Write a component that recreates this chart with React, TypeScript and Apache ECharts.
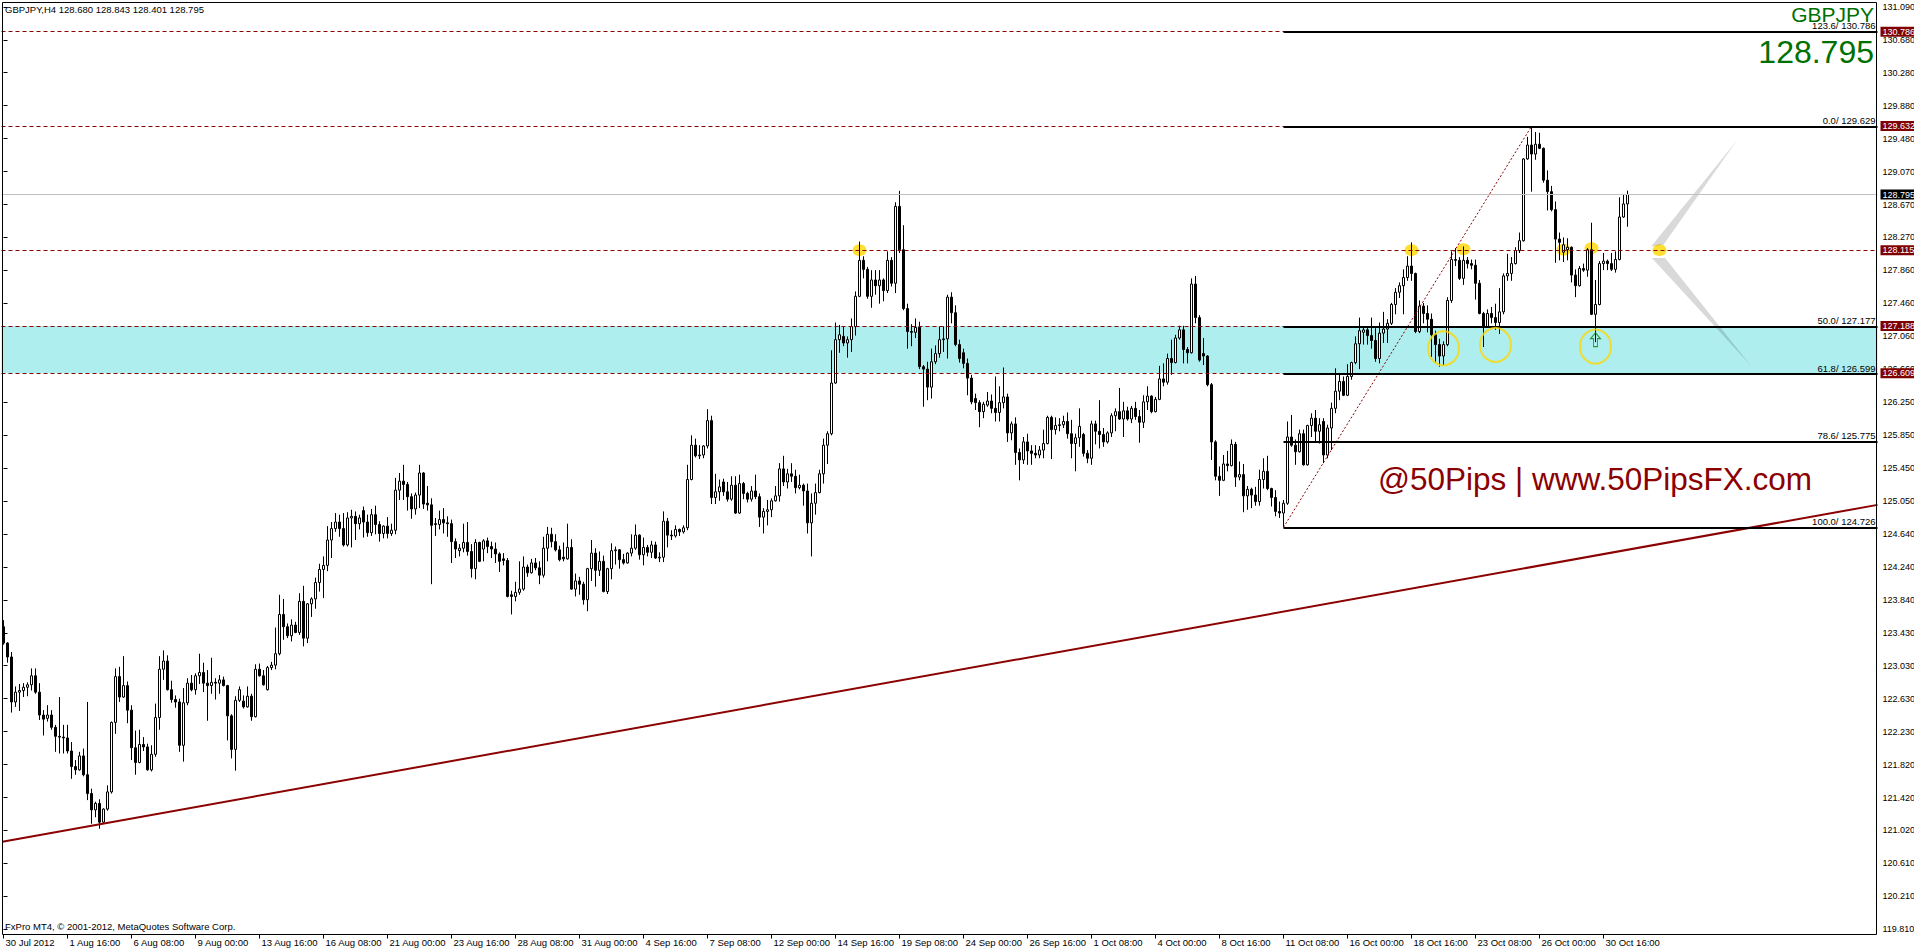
import React, { useEffect, useRef } from "react";
import * as echarts from "echarts";

const FONT = "'Liberation Sans', Arial, sans-serif";

// ---- axes ----
const xTickLabels = [
  "30 Jul 2012", "1 Aug 16:00", "6 Aug 08:00", "9 Aug 00:00", "13 Aug 16:00", "16 Aug 08:00",
  "21 Aug 00:00", "23 Aug 16:00", "28 Aug 08:00", "31 Aug 00:00", "4 Sep 16:00", "7 Sep 08:00",
  "12 Sep 00:00", "14 Sep 16:00", "19 Sep 08:00", "24 Sep 00:00", "26 Sep 16:00", "1 Oct 08:00",
  "4 Oct 00:00", "8 Oct 16:00", "11 Oct 08:00", "16 Oct 00:00", "18 Oct 16:00", "23 Oct 08:00",
  "26 Oct 00:00", "30 Oct 16:00",
];
const yTickLabels = [
  "119.810", "120.210", "120.610", "121.020", "121.420", "121.820", "122.230", "122.630",
  "123.030", "123.430", "123.840", "124.240", "124.640", "125.050", "125.450", "125.850",
  "126.250", "126.660", "127.060", "127.460", "127.860", "128.270", "128.670", "129.070",
  "129.480", "129.880", "130.280", "130.680", "131.090",
];
const Y_MIN = 119.81;
const Y_MAX = 131.09;
const SLOTS = 469; // bar slots across the plot (data + right shift)
const LABEL_EVERY = 16;

// ---- candles: [open, close, low, high] ----
const candlesEarlyAug = [
  [123.51, 123.31, 123.29, 123.59], [123.31, 123.14, 123.07, 123.32], [123.14, 122.59, 122.46, 123.2], [122.59, 122.71, 122.53, 122.78],
  [122.71, 122.73, 122.48, 122.81], [122.73, 122.77, 122.65, 122.82], [122.77, 122.8, 122.66, 122.83], [122.8, 122.91, 122.73, 123.0],
  [122.91, 122.71, 122.69, 123.0], [122.71, 122.43, 122.37, 122.82], [122.43, 122.38, 122.18, 122.49], [122.39, 122.43, 122.35, 122.55],
  [122.43, 122.28, 122.25, 122.49], [122.28, 122.17, 121.98, 122.31], [122.17, 122.16, 121.96, 122.65], [122.16, 122.15, 121.96, 122.31],
  [122.15, 121.99, 121.96, 122.31], [121.99, 121.8, 121.65, 122.1], [121.8, 121.76, 121.7, 121.88], [121.76, 121.93, 121.75, 121.98],
  [121.93, 121.7, 121.68, 122.02], [121.7, 121.47, 121.39, 122.59], [121.47, 121.27, 121.1, 121.53], [121.27, 121.35, 121.18, 121.37],
  [121.35, 121.12, 121.04, 121.4], [121.12, 121.28, 121.1, 121.29], [121.28, 121.49, 121.26, 121.57], [121.49, 122.34, 121.47, 122.35],
  [122.34, 122.9, 122.2, 123.0], [122.9, 122.65, 122.59, 123.02], [122.65, 122.79, 122.64, 123.15], [122.79, 122.49, 122.33, 122.84],
  [122.49, 122.03, 121.88, 122.55], [122.03, 121.85, 121.7, 122.24], [121.85, 122.07, 121.84, 122.25], [122.07, 122.04, 121.99, 122.16],
  [122.04, 121.76, 121.75, 122.08], [121.76, 121.95, 121.74, 122.06], [121.95, 122.4, 121.92, 122.57], [122.4, 122.99, 122.25, 123.15],
  [122.99, 123.09, 122.86, 123.22], [123.09, 122.74, 122.73, 123.16], [122.74, 122.62, 122.58, 122.85], [122.62, 122.59, 122.52, 122.67],
  [122.59, 122.06, 121.98, 122.63], [122.06, 122.58, 121.86, 122.76], [122.58, 122.82, 122.55, 122.88], [122.82, 122.74, 122.72, 122.92],
  [122.74, 122.91, 122.68, 122.94], [122.91, 122.95, 122.81, 123.18], [122.95, 122.82, 122.71, 123.07], [122.82, 122.79, 122.36, 122.98],
  [122.79, 122.83, 122.69, 123.13], [122.83, 122.82, 122.62, 122.88], [122.82, 122.86, 122.69, 122.92], [122.86, 122.79, 122.78, 122.9],
  [122.79, 122.42, 122.12, 122.8], [122.42, 122.01, 121.9, 122.44], [122.01, 122.61, 121.75, 122.66], [122.61, 122.74, 122.59, 122.78],
  [122.6, 122.53, 122.51, 122.67], [122.53, 122.66, 122.52, 122.78], [122.66, 122.41, 122.36, 122.69], [122.41, 122.99, 122.4, 123.05],
  [122.99, 122.91, 122.9, 123.06], [122.91, 122.8, 122.79, 122.98], [122.74, 123.01, 122.73, 123.03], [123.01, 123.04, 122.98, 123.08],
  [123.04, 123.18, 122.99, 123.5], [123.18, 123.66, 123.16, 123.9], [123.66, 123.51, 123.35, 123.85], [123.51, 123.4, 123.37, 123.55],
  [123.4, 123.53, 123.33, 123.6], [123.53, 123.44, 123.43, 123.57], [123.44, 123.82, 123.41, 123.92], [123.82, 123.37, 123.27, 124.01],
  [123.37, 123.79, 123.31, 123.8], [123.79, 123.85, 123.63, 123.87], [123.85, 124.05, 123.73, 124.11], [124.05, 124.21, 123.94, 124.28],
  [124.21, 124.26, 123.86, 124.37], [124.26, 124.57, 124.19, 124.74],
];
const candlesLateAug = [
  [124.57, 124.71, 124.35, 124.79], [124.71, 124.79, 124.67, 124.9], [124.79, 124.71, 124.61, 124.88], [124.71, 124.51, 124.49, 124.9],
  [124.51, 124.84, 124.49, 124.91], [124.84, 124.86, 124.48, 124.94], [124.86, 124.77, 124.57, 124.92], [124.77, 124.84, 124.7, 124.88],
  [124.93, 124.79, 124.6, 124.98], [124.79, 124.66, 124.61, 124.88], [124.66, 124.88, 124.62, 124.95], [124.88, 124.76, 124.64, 124.99],
  [124.76, 124.65, 124.55, 124.8], [124.65, 124.74, 124.59, 124.75], [124.74, 124.65, 124.59, 124.85], [124.65, 124.69, 124.62, 124.77],
  [124.69, 125.18, 124.64, 125.33], [125.18, 125.29, 125.06, 125.39], [125.29, 125.25, 125.06, 125.49], [125.25, 125.1, 124.93, 125.28],
  [125.1, 124.95, 124.83, 125.14], [124.95, 125.12, 124.88, 125.15], [125.12, 125.39, 124.96, 125.49], [125.39, 125.01, 124.95, 125.4],
  [125.02, 125.0, 124.93, 125.23], [125.0, 124.75, 124.03, 125.08], [124.77, 124.76, 124.62, 124.84], [124.76, 124.82, 124.7, 124.93],
  [124.82, 124.78, 124.65, 124.96], [124.78, 124.77, 124.61, 124.86], [124.77, 124.55, 124.29, 124.82], [124.55, 124.46, 124.35, 124.59],
  [124.44, 124.47, 124.37, 124.52], [124.47, 124.54, 124.42, 124.77], [124.54, 124.43, 124.38, 124.79], [124.43, 124.22, 124.11, 124.52],
  [124.22, 124.54, 124.09, 124.58], [124.54, 124.31, 124.3, 124.55], [124.46, 124.56, 124.31, 124.58], [124.56, 124.49, 124.41, 124.6],
  [124.49, 124.46, 124.35, 124.55], [124.46, 124.4, 124.29, 124.54], [124.4, 124.31, 124.18, 124.42], [124.34, 124.32, 124.26, 124.41],
  [124.32, 123.88, 123.87, 124.35], [123.9, 123.88, 123.66, 123.95], [123.88, 123.93, 123.82, 124.06], [123.93, 123.97, 123.9, 124.31],
  [123.97, 124.24, 123.95, 124.37], [124.24, 124.17, 124.12, 124.27], [124.17, 124.29, 124.16, 124.34], [124.29, 124.23, 124.2, 124.35],
  [124.23, 124.14, 124.03, 124.31], [124.14, 124.47, 124.11, 124.61], [124.47, 124.64, 124.31, 124.73], [124.64, 124.55, 124.48, 124.72],
  [124.55, 124.45, 124.43, 124.64], [124.45, 124.33, 124.31, 124.5], [124.36, 124.34, 124.31, 124.54], [124.34, 124.48, 124.33, 124.77],
  [124.48, 123.97, 123.96, 124.58], [123.97, 124.07, 123.88, 124.16], [124.07, 124.03, 123.9, 124.12], [124.03, 123.84, 123.78, 124.06],
  [123.84, 124.22, 123.7, 124.23], [124.22, 124.41, 124.07, 124.57], [124.41, 124.2, 124.0, 124.47], [124.2, 124.31, 124.13, 124.43],
  [124.31, 123.94, 123.93, 124.38], [123.94, 124.22, 123.91, 124.23], [124.22, 124.44, 124.09, 124.53], [124.44, 124.45, 124.27, 124.49],
  [124.45, 124.33, 124.22, 124.46], [124.33, 124.29, 124.27, 124.4], [124.29, 124.41, 124.28, 124.42], [124.41, 124.47, 124.37, 124.64],
  [124.47, 124.63, 124.45, 124.76], [124.63, 124.39, 124.33, 124.64], [124.39, 124.48, 124.26, 124.6], [124.48, 124.42, 124.37, 124.51],
  [124.42, 124.51, 124.35, 124.56], [124.51, 124.35, 124.34, 124.55],
];
const candlesSep = [
  [124.35, 124.36, 124.3, 124.42], [124.36, 124.8, 124.3, 124.92], [124.8, 124.63, 124.48, 124.84], [124.63, 124.62, 124.57, 124.69],
  [124.62, 124.7, 124.6, 124.75], [124.7, 124.67, 124.62, 124.71], [124.67, 124.72, 124.65, 124.75], [124.72, 125.31, 124.69, 125.49],
  [125.31, 125.73, 125.3, 125.85], [125.73, 125.6, 125.58, 125.81], [125.6, 125.61, 125.56, 125.73], [125.61, 125.72, 125.57, 125.73],
  [125.72, 126.03, 125.69, 126.17], [126.03, 125.09, 125.01, 126.09], [125.09, 125.16, 125.01, 125.38], [125.16, 125.22, 125.05, 125.31],
  [125.28, 125.16, 125.11, 125.32], [125.16, 125.07, 125.04, 125.28], [125.07, 125.24, 125.05, 125.35], [125.24, 124.9, 124.89, 125.35],
  [124.9, 125.26, 124.89, 125.37], [125.26, 125.14, 125.07, 125.28], [125.14, 125.07, 125.03, 125.16], [125.07, 125.17, 125.04, 125.23],
  [125.17, 125.1, 125.07, 125.37], [125.1, 124.85, 124.73, 125.14], [124.85, 124.92, 124.65, 124.96], [124.92, 124.94, 124.75, 125.06],
  [124.94, 125.05, 124.85, 125.08], [125.05, 125.11, 125.04, 125.23], [125.11, 125.44, 125.04, 125.51], [125.44, 125.28, 125.23, 125.6],
  [125.28, 125.38, 125.2, 125.44], [125.38, 125.35, 125.28, 125.51], [125.35, 125.21, 125.14, 125.43], [125.21, 125.24, 125.19, 125.37],
  [125.24, 125.17, 124.99, 125.26], [125.17, 124.78, 124.65, 125.26], [124.78, 125.02, 124.37, 125.14], [125.02, 125.15, 124.88, 125.26],
  [125.15, 125.38, 125.14, 125.43], [125.38, 125.73, 125.26, 125.81], [125.73, 125.87, 125.5, 125.9], [125.87, 126.49, 125.85, 126.89],
  [126.49, 127.02, 126.48, 127.23], [127.02, 127.08, 126.86, 127.2], [127.06, 126.98, 126.94, 127.18], [126.98, 127.02, 126.8, 127.06],
  [127.02, 127.18, 126.87, 127.28], [127.18, 127.55, 127.07, 127.61], [127.55, 127.99, 127.54, 128.22], [127.99, 127.88, 127.77, 128.04],
  [127.88, 127.55, 127.52, 127.91], [127.55, 127.75, 127.41, 127.87], [127.75, 127.68, 127.57, 127.87], [127.68, 127.75, 127.46, 127.87],
  [127.75, 127.62, 127.49, 127.77], [127.62, 127.99, 127.59, 128.1], [127.99, 127.71, 127.67, 128.03], [127.71, 128.65, 127.59, 128.7],
  [128.65, 128.12, 128.08, 128.84], [128.12, 127.4, 127.38, 128.42], [127.4, 127.12, 126.91, 127.46], [127.12, 127.11, 126.94, 127.21],
  [127.11, 127.17, 127.04, 127.28], [127.17, 126.69, 126.66, 127.24], [126.69, 126.66, 126.2, 126.71], [126.66, 126.44, 126.28, 126.75],
  [126.44, 126.75, 126.3, 126.91], [126.75, 126.85, 126.72, 126.95], [126.85, 127.02, 126.8, 127.18], [127.02, 127.03, 126.87, 127.18],
  [127.03, 127.54, 126.79, 127.57], [127.54, 127.35, 127.22, 127.6], [127.35, 126.96, 126.94, 127.44], [126.96, 126.79, 126.74, 127.02],
  [126.86, 126.73, 126.67, 126.91], [126.73, 126.55, 126.34, 126.79], [126.55, 126.26, 126.23, 126.59], [126.3, 126.25, 126.16, 126.36],
  [126.25, 126.14, 125.95, 126.28], [126.14, 126.23, 126.06, 126.26],
];
const candlesEarlyOct = [
  [126.22, 126.27, 126.2, 126.38], [126.27, 126.18, 126.12, 126.35], [126.18, 126.13, 126.02, 126.57], [126.13, 126.25, 126.02, 126.45],
  [126.25, 126.32, 126.18, 126.68], [126.32, 125.88, 125.77, 126.36], [125.88, 125.99, 125.79, 126.02], [125.99, 125.64, 125.49, 126.07],
  [125.64, 125.55, 125.3, 125.69], [125.55, 125.77, 125.5, 125.83], [125.77, 125.66, 125.49, 125.87], [125.66, 125.63, 125.49, 125.73],
  [125.63, 125.61, 125.57, 125.73], [125.61, 125.67, 125.57, 125.72], [125.67, 125.75, 125.57, 125.92], [125.75, 126.07, 125.74, 126.09],
  [126.07, 125.92, 125.56, 126.09], [125.92, 125.97, 125.86, 126.07], [125.97, 125.98, 125.9, 126.06], [125.98, 126.02, 125.94, 126.09],
  [126.02, 125.87, 125.81, 126.13], [125.87, 125.75, 125.57, 126.04], [125.75, 125.82, 125.41, 125.87], [125.82, 125.96, 125.71, 126.18],
  [125.86, 125.63, 125.59, 125.88], [125.63, 125.57, 125.51, 125.67], [125.57, 125.99, 125.49, 126.03], [125.99, 125.9, 125.74, 126.03],
  [125.9, 125.86, 125.69, 126.28], [125.86, 125.77, 125.71, 125.94], [125.77, 125.88, 125.75, 125.9], [125.88, 126.09, 125.83, 126.12],
  [126.09, 126.14, 125.9, 126.18], [126.14, 126.05, 126.04, 126.43], [126.05, 126.15, 125.83, 126.26], [126.15, 126.05, 126.03, 126.2],
  [126.05, 126.18, 126.0, 126.21], [126.18, 126.08, 126.04, 126.26], [126.08, 126.01, 125.76, 126.16], [126.01, 126.26, 125.94, 126.34],
  [126.26, 126.33, 126.16, 126.45], [126.33, 126.14, 126.12, 126.34], [126.14, 126.29, 126.13, 126.32], [126.29, 126.54, 126.28, 126.7],
  [126.54, 126.5, 126.45, 126.73], [126.5, 126.79, 126.47, 126.85], [126.79, 126.74, 126.59, 127.02], [126.74, 127.04, 126.73, 127.08],
  [127.04, 127.14, 127.02, 127.19], [127.14, 126.9, 126.73, 127.19], [126.9, 126.86, 126.73, 126.93], [126.86, 127.7, 126.85, 127.77],
  [127.7, 127.29, 127.22, 127.8], [127.29, 126.77, 126.75, 127.32], [126.85, 126.82, 126.71, 127.04], [126.82, 126.47, 126.45, 126.83],
  [126.47, 125.77, 125.55, 126.49], [125.77, 125.35, 125.3, 125.79], [125.35, 125.3, 125.11, 125.47], [125.3, 125.5, 125.29, 125.61],
  [125.5, 125.48, 125.41, 125.66], [125.48, 125.74, 125.47, 125.8], [125.74, 125.34, 125.22, 125.77], [125.34, 125.37, 125.3, 125.53],
  [125.37, 125.11, 124.91, 125.5], [125.11, 125.19, 124.94, 125.23], [125.19, 125.12, 124.96, 125.21], [125.12, 125.04, 124.99, 125.22],
  [125.04, 125.31, 124.99, 125.43], [125.31, 125.41, 125.2, 125.57], [125.41, 125.2, 125.18, 125.6], [125.2, 125.09, 124.98, 125.21],
  [125.09, 124.92, 124.86, 125.18], [124.92, 124.9, 124.84, 125.04], [124.9, 125.02, 124.726, 125.06], [125.02, 125.83, 125.0, 126.02],
  [125.83, 125.73, 125.71, 126.1], [125.73, 125.65, 125.49, 125.8], [125.65, 125.87, 125.64, 125.92], [125.87, 125.49, 125.48, 125.92],
  [125.49, 125.97, 125.48, 125.98], [125.97, 126.06, 125.83, 126.12],
];
const candlesLateOct = [
  [126.06, 125.9, 125.77, 126.16], [125.9, 125.98, 125.75, 126.06], [126.02, 125.61, 125.51, 126.06], [125.61, 125.94, 125.57, 125.98],
  [125.94, 126.18, 125.67, 126.25], [126.18, 126.39, 126.12, 126.67], [126.39, 126.51, 126.28, 126.61], [126.51, 126.34, 126.33, 126.57],
  [126.34, 126.57, 126.33, 126.72], [126.57, 126.74, 126.53, 126.75], [126.74, 126.97, 126.72, 127.06], [126.97, 127.13, 126.66, 127.29],
  [127.11, 127.14, 126.96, 127.17], [127.14, 127.07, 126.96, 127.18], [127.07, 127.01, 126.91, 127.29], [127.01, 126.79, 126.75, 127.16],
  [126.79, 127.1, 126.73, 127.23], [127.1, 127.15, 126.98, 127.36], [127.15, 127.22, 126.98, 127.27], [127.22, 127.45, 127.2, 127.47],
  [127.45, 127.6, 127.33, 127.65], [127.6, 127.68, 127.53, 127.72], [127.68, 127.78, 127.33, 127.88], [127.78, 127.92, 127.74, 128.04],
  [127.92, 127.83, 127.74, 128.21], [127.83, 127.12, 127.1, 127.84], [127.12, 127.43, 127.1, 127.5], [127.43, 127.34, 127.22, 127.47],
  [127.34, 127.27, 127.11, 127.44], [127.27, 127.08, 126.81, 127.34], [127.08, 126.96, 126.74, 127.13], [126.96, 126.82, 126.69, 127.03],
  [126.82, 126.96, 126.71, 127.0], [126.96, 127.5, 126.94, 127.54], [127.5, 128.0, 127.47, 128.1], [128.0, 127.99, 127.92, 128.14],
  [127.99, 127.77, 127.75, 128.03], [127.77, 127.99, 127.69, 128.16], [127.99, 127.95, 127.89, 128.03], [127.95, 127.93, 127.88, 128.0],
  [127.93, 127.71, 127.51, 128.0], [127.71, 127.34, 127.33, 127.75], [127.34, 127.18, 126.93, 127.36], [127.18, 127.34, 127.17, 127.39],
  [127.34, 127.29, 127.22, 127.42], [127.29, 127.23, 127.14, 127.46], [127.23, 127.36, 127.09, 127.65], [127.36, 127.8, 127.33, 127.83],
  [127.8, 127.83, 127.74, 128.07], [127.83, 127.95, 127.74, 128.03], [127.95, 128.11, 127.94, 128.15], [128.11, 128.23, 128.08, 128.33],
  [128.23, 129.23, 128.22, 129.24], [129.23, 129.4, 129.22, 129.5], [129.4, 129.29, 128.83, 129.632], [129.29, 129.41, 129.22, 129.56],
  [129.41, 129.36, 129.35, 129.55], [129.36, 128.97, 128.94, 129.37], [128.97, 128.83, 128.6, 129.09], [128.83, 128.61, 128.59, 128.9],
  [128.61, 128.25, 127.96, 128.71], [128.25, 128.21, 127.99, 128.33], [128.09, 128.18, 127.97, 128.27], [128.12, 128.15, 127.99, 128.26],
  [128.15, 127.81, 127.72, 128.16], [127.81, 127.68, 127.54, 127.88], [127.68, 127.89, 127.67, 127.92], [127.89, 127.87, 127.85, 127.95],
  [127.87, 128.12, 127.79, 128.14], [128.12, 127.33, 127.32, 128.45], [127.33, 127.45, 126.99, 127.75], [127.45, 127.95, 127.44, 127.98],
  [127.95, 127.98, 127.87, 128.08], [127.98, 127.95, 127.87, 128.0], [127.95, 127.88, 127.86, 128.08], [127.88, 128.0, 127.84, 128.1],
  [128.0, 128.52, 127.99, 128.76], [128.52, 128.68, 128.51, 128.79], [128.68, 128.795, 128.401, 128.843],
];

// ---- drawn objects (data coordinates: [bar index, price]) ----
const supportLevels = [130.786, 129.632, 128.115, 127.188, 126.609];
const bidPrice = 128.795;
const zoneTop = 127.188;
const zoneBottom = 126.609;
const fibStartBar = 320;
const fibLevelNames = ["123.6", "0.0", "50.0", "61.8", "78.6", "100.0"];
const fibLevelPrices = [130.786, 129.629, 127.177, 126.599, 125.775, 124.726];
const fibTrend = [[320, 124.726], [382, 129.629]];
const trendLine = [[-0.3, 120.88], [468.5, 125.0]];
const yellowDots = [[214, 128.115], [352, 128.115], [365, 128.125], [390, 128.12], [397, 128.14], [414, 128.115]];
const yellowRings = [[360, 126.915], [373, 126.955], [398, 126.935]];
const upArrows = [[398, 127.02]];
const upperWedge = [[433.4, 129.46], [411.9, 128.16], [415.0, 128.18]];
const lowerWedge = [[412.1, 128.02], [415.4, 128.02], [436.7, 126.71]];

const symbolName = "GBPJPY";
const titleText = "GBPJPY,H4 128.680 128.843 128.401 128.795";
const footerText = "FxPro MT4, \u00a9 2001-2012, MetaQuotes Software Corp.";
const brandText = "@50Pips | www.50PipsFX.com";

export default function App() {
  const ref = useRef<HTMLDivElement>(null);

  useEffect(() => {
    const el = ref.current;
    if (!el) return;
    const chart = echarts.init(el, undefined, { renderer: "svg" });
    const candles = [...candlesEarlyAug, ...candlesLateAug, ...candlesSep, ...candlesEarlyOct, ...candlesLateOct];
    const categories = Array.from({ length: SLOTS }, (_, i) => "b" + i);
    const yStep = (Y_MAX - Y_MIN) / (yTickLabels.length - 1);
    const showTick = (i: number) => i % LABEL_EVERY === 0 && i / LABEL_EVERY < xTickLabels.length;
    const DARK_RED = "#8B0000";

    chart.setOption({
      animation: false,
      backgroundColor: "#ffffff",
      grid: { left: 1.5, right: 36.5, top: 6.84, bottom: 21.7, containLabel: false, outerBoundsMode: "none" },
      xAxis: [
        {
          type: "category",
          data: categories,
          boundaryGap: true,
          offset: 5.2,
          axisLine: { show: false },
          axisTick: { show: true, alignWithLabel: true, length: 4, interval: (i: number) => showTick(i), lineStyle: { color: "#000" } },
          axisLabel: {
            interval: (i: number) => showTick(i),
            formatter: (_v: string, i: number) => xTickLabels[i / LABEL_EVERY] ?? "",
            align: "left",
            margin: 3,
            padding: [0, 0, 0, 2],
            fontSize: 9.5,
            color: "#000",
            fontFamily: FONT,
          },
          splitLine: { show: false },
        },
        { type: "value", min: -0.5, max: SLOTS - 0.5, show: false },
      ],
      yAxis: {
        type: "value",
        position: "right",
        min: Y_MIN,
        max: Y_MAX,
        interval: yStep,
        axisLine: { show: false },
        axisTick: { show: true, length: 4, lineStyle: { color: "#000" } },
        axisLabel: {
          margin: 5,
          fontSize: 9,
          color: "#000",
          fontFamily: FONT,
          formatter: (v: number) => yTickLabels[Math.round((v - Y_MIN) / yStep)] ?? "",
        },
        splitLine: { show: false },
      },
      series: [
        {
          name: "trend",
          type: "line",
          xAxisIndex: 1,
          data: trendLine,
          symbol: "none",
          silent: true,
          z: 4,
          lineStyle: { color: DARK_RED, width: 2 },
          markArea: {
            silent: true,
            itemStyle: { color: "#AFEEEE" },
            data: [[{ yAxis: zoneTop }, { yAxis: zoneBottom }]],
          },
          markLine: {
            silent: true,
            symbol: ["none", "none"],
            precision: 3,
            label: {
              show: true,
              position: "end",
              distance: 3,
              color: "#fff",
              fontSize: 9,
              fontFamily: FONT,
              padding: [1, 2, 0, 2],
              formatter: (p: any) => p.name,
            },
            data: [
              ...supportLevels.map((v) => ({
                yAxis: v,
                name: v.toFixed(3),
                lineStyle: { color: DARK_RED, type: [4, 3], width: 1 },
                label: { backgroundColor: "#800000" },
              })),
              {
                yAxis: bidPrice,
                name: bidPrice.toFixed(3),
                lineStyle: { color: "#C0C0C0", type: "solid", width: 1 },
                label: { backgroundColor: "#000" },
              },
            ],
          },
        },
        {
          name: "zones-dots",
          type: "scatter",
          xAxisIndex: 1,
          data: yellowDots,
          symbol: "circle",
          symbolSize: [14, 12],
          silent: true,
          z: 1.5,
          itemStyle: { color: "#FFD700" },
        },
        {
          name: symbolName,
          type: "candlestick",
          xAxisIndex: 0,
          data: candles,
          barWidth: 2,
          silent: true,
          z: 2,
          itemStyle: { color: "#ffffff", color0: "#000000", borderColor: "#000000", borderColor0: "#000000", borderWidth: 1 },
        },
        {
          name: "fibo",
          type: "line",
          xAxisIndex: 1,
          data: fibTrend,
          symbol: "none",
          silent: true,
          z: 4,
          lineStyle: { color: DARK_RED, width: 1, type: [2, 2] },
          markLine: {
            silent: true,
            symbol: ["none", "none"],
            lineStyle: { color: "#000", width: 2, type: "solid" },
            label: {
              show: true,
              position: "insideEndTop",
              distance: [2, 1],
              color: "#000",
              fontSize: 9.5,
              fontFamily: FONT,
              formatter: (p: any) => p.name,
            },
            data: fibLevelPrices.map((v, i) => [
              { coord: [fibStartBar, v], name: `${fibLevelNames[i]}/ ${v.toFixed(3)}` },
              { coord: [SLOTS - 0.5, v] },
            ]),
          },
        },
        {
          name: "wedges",
          type: "custom",
          xAxisIndex: 1,
          data: [[0, 128]],
          silent: true,
          z: 3,
          renderItem: (_params: any, api: any) => ({
            type: "group",
            children: [upperWedge, lowerWedge].map((w) => ({
              type: "polygon",
              shape: { points: w.map((p) => api.coord(p)) },
              style: { fill: "rgba(32,32,32,0.17)", stroke: "none" },
            })),
          }),
        },
        {
          name: "rings",
          type: "scatter",
          xAxisIndex: 1,
          data: yellowRings,
          symbol: "circle",
          symbolSize: [31, 34],
          silent: true,
          z: 5,
          itemStyle: { color: "rgba(0,0,0,0)", borderColor: "#FFD700", borderWidth: 2 },
        },
        {
          name: "arrow",
          type: "scatter",
          xAxisIndex: 1,
          data: upArrows,
          symbol: "path://M5,0L10,6L7,6L7,14L3,14L3,6L0,6Z",
          symbolSize: [10, 14],
          silent: true,
          z: 6,
          itemStyle: { color: "rgba(0,0,0,0)", borderColor: "#008000", borderWidth: 1 },
        },
      ],
      graphic: [
        {
          type: "rect",
          silent: true,
          z: 50,
          shape: { x: 2.5, y: 2.5, width: 1874, height: 932 },
          style: { fill: "none", stroke: "#000", lineWidth: 1 },
        },
        {
          type: "text",
          silent: true,
          z: 60,
          style: { text: titleText, x: 5, y: 9, fill: "#000", font: `9.5px ${FONT}`, verticalAlign: "middle" },
        },
        {
          type: "text",
          silent: true,
          z: 60,
          style: { text: footerText, x: 5, y: 926, fill: "#000", font: `9.5px ${FONT}`, verticalAlign: "middle" },
        },
        {
          type: "text",
          silent: true,
          z: 60,
          style: { text: symbolName, x: 1874, y: 14.5, fill: "#007000", font: `21px ${FONT}`, align: "right", verticalAlign: "middle" },
        },
        {
          type: "text",
          silent: true,
          z: 60,
          style: { text: bidPrice.toFixed(3), x: 1874, y: 52, fill: "#007000", font: `32px ${FONT}`, align: "right", verticalAlign: "middle" },
        },
        {
          type: "text",
          silent: true,
          z: 60,
          style: { text: brandText, x: 1812, y: 479, fill: "#8B0000", font: `31.5px ${FONT}`, align: "right", verticalAlign: "middle" },
        },
      ],
    });

    return () => chart.dispose();
  }, []);

  return (
    <div
      ref={ref}
      style={{ position: "fixed", left: 0, top: 0, width: 1914, height: 951, background: "#fff" }}
    />
  );
}
